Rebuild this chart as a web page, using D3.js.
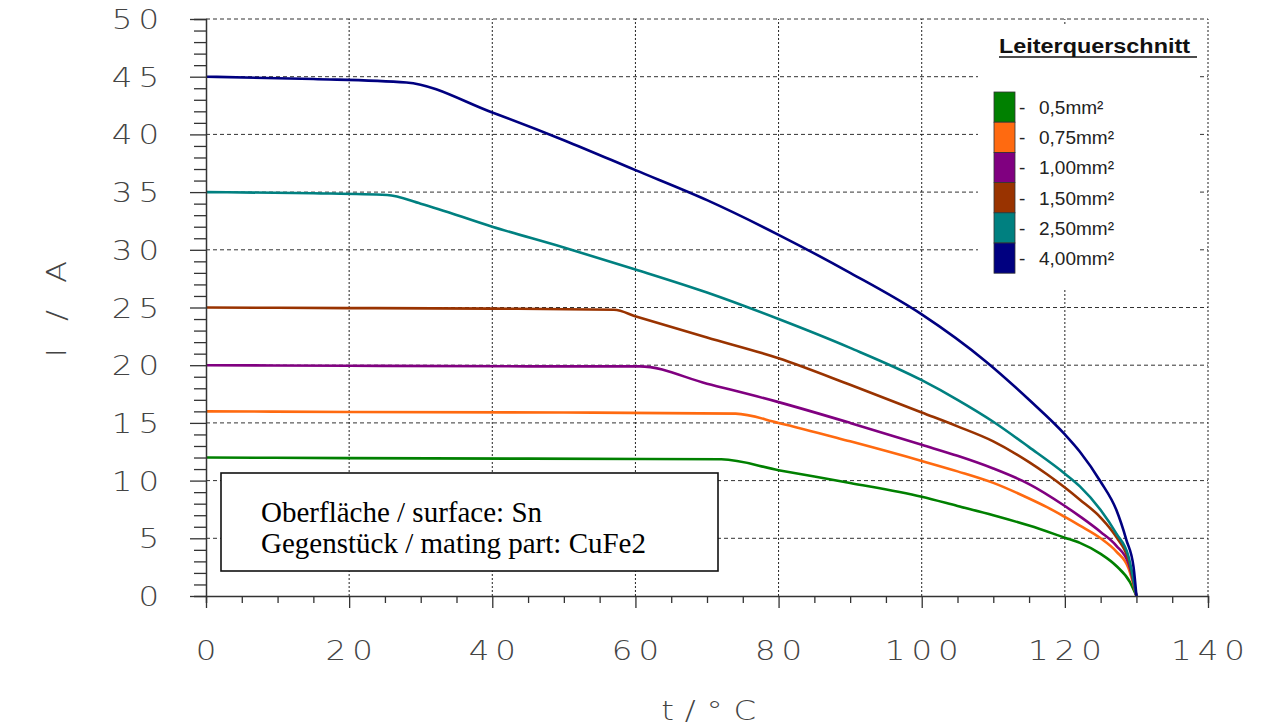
<!DOCTYPE html>
<html>
<head>
<meta charset="utf-8">
<script src="https://cdn.jsdelivr.net/npm/d3@7"></script>
<style>
    body { margin: 0; background: #fff; }
    .tick-lbl { font-family: "DejaVu Sans", sans-serif; font-weight: 200; fill: #444; }
</style>
</head>
<body>
<div id="chart"></div>
<script>
// series names and colours (Leiterquerschnitt)
var seriesNames = ["0,5mm²", "0,75mm²", "1,00mm²", "1,50mm²", "2,50mm²", "4,00mm²"];
var seriesColors = ["#008000", "#ff6a10", "#800080", "#993300", "#008080", "#000080"];

// temperature (t / °C) and current (I / A)
var t05 = [0, 20, 45, 72, 80, 90, 100, 105, 110, 115, 120, 122.1, 125, 127.2, 129.1, 130];
var i05 = [12.0, 11.95, 11.9, 11.85, 10.9, 9.8, 8.6, 7.8, 7.0, 6.1, 5.05, 4.6, 3.65, 2.6, 1.2, 0];
var t075 = [0, 20, 50, 74, 80, 90, 100, 105, 110, 115, 117.5, 120, 122.1, 125, 127.2, 128.9, 130];
var i075 = [16.0, 15.95, 15.9, 15.8, 15.0, 13.4, 11.7, 10.8, 9.8, 8.45, 7.7, 6.85, 6.1, 5.0, 3.85, 2.4, 0];
var t100 = [0, 20, 45, 60.6, 70, 80, 90, 100, 105, 110, 115, 120, 122.1, 125, 127.2, 128.9, 130];
var i100 = [20.0, 19.95, 19.9, 19.9, 18.4, 16.8, 15.0, 13.1, 12.15, 11.05, 9.7, 7.8, 6.9, 5.55, 4.35, 2.8, 0];
var t150 = [0, 20, 40, 57, 60.2, 70, 80, 90, 100, 105, 110, 115, 117.5, 120, 122.1, 125, 127.2, 128.9, 130];
var i150 = [25.0, 24.95, 24.9, 24.8, 24.2, 22.4, 20.6, 18.3, 15.9, 14.7, 13.4, 11.6, 10.55, 9.4, 8.35, 6.8, 5.1, 3.1, 0];
var t250 = [0, 15, 25.3, 30, 40, 50, 60, 70, 80, 90, 100, 105, 110, 115, 120, 122.1, 125, 127.2, 128.9, 130];
var i250 = [35.0, 34.9, 34.75, 34.0, 32.0, 30.2, 28.3, 26.3, 24.0, 21.5, 18.7, 17.0, 15.1, 12.9, 10.6, 9.5, 7.45, 5.4, 3.4, 0];
var t400 = [0, 15, 28, 40, 50, 60, 70, 80, 90, 100, 109, 115, 120, 122.1, 125, 127.2, 128.6, 129.6, 130];
var i400 = [45.0, 44.8, 44.5, 41.9, 39.5, 36.9, 34.3, 31.3, 28.0, 24.4, 20.3, 17.0, 14.0, 12.5, 9.9, 7.45, 4.85, 2.5, 0];

var xTicks = [0, 20, 40, 60, 80, 100, 120, 140];
var yTicks = [0, 5, 10, 15, 20, 25, 30, 35, 40, 45, 50];

var noteLines = ["Oberfläche / surface: Sn", "Gegenstück / mating part: CuFe2"];

window.onload = function() {
    var fullWidth = 1261, fullHeight = 728;

    var svg = d3.select("#chart").append("svg").attr("width", fullWidth).attr("height", fullHeight);

    var x = d3.scaleLinear().domain([0, 140]).range([206, 1208]);
    var y = d3.scaleLinear().domain([0, 50]).range([596, 19]);

    // grid: dashed horizontals, dotted verticals
    svg.append("g").selectAll("line").data(yTicks.slice(1)).enter().append("line")
        .attr("x1", x(0)).attr("x2", x(140))
        .attr("y1", function(d) { return y(d); }).attr("y2", function(d) { return y(d); })
        .attr("stroke", "#333").attr("stroke-width", 1).attr("stroke-dasharray", "4,3");
    svg.append("g").selectAll("line").data(xTicks.slice(1)).enter().append("line")
        .attr("x1", function(d) { return x(d); }).attr("x2", function(d) { return x(d); })
        .attr("y1", y(0)).attr("y2", y(50))
        .attr("stroke", "#222").attr("stroke-width", 1).attr("stroke-dasharray", "2,2");

    // legend background hides the grid
    svg.append("rect").attr("x", 978).attr("y", 24).attr("width", 222).attr("height", 264).attr("fill", "#fff");

    // curves
    var line = d3.line()
        .x(function(d) { return x(d[0]); })
        .y(function(d) { return y(d[1]); })
        .curve(d3.curveMonotoneX);
    var tData = [t05, t075, t100, t150, t250, t400];
    var iData = [i05, i075, i100, i150, i250, i400];
    for (var s = 0; s < tData.length; s++) {
        var pts = d3.zip(tData[s], iData[s]);
        svg.append("path").datum(pts).attr("d", line)
            .attr("fill", "none").attr("stroke", seriesColors[s]).attr("stroke-width", 2.6)
            .attr("stroke-linejoin", "round");
    }

    // note box
    svg.append("rect").attr("x", 221).attr("y", 473).attr("width", 497).attr("height", 98)
        .attr("fill", "#fff").attr("stroke", "#111").attr("stroke-width", 1.6);
    svg.append("g").selectAll("text").data(noteLines).enter().append("text")
        .attr("x", 261).attr("y", function(d, i) { return 522 + i * 31; })
        .style("font-family", "'Liberation Serif', serif").style("font-size", "29px").style("fill", "#000")
        .text(function(d) { return d; });

    // y axis with minor ticks
    var yAxis = d3.axisLeft(y).tickValues(d3.range(0, 51, 1)).tickSize(12).tickFormat("");
    svg.append("g").attr("transform", "translate(" + x(0) + ",0)").call(yAxis)
        .call(function(g) {
            g.select(".domain").attr("stroke", "#333").attr("stroke-width", 1.5);
            g.selectAll(".tick line").attr("stroke", "#333").attr("stroke-width", 1.3)
                .attr("x2", function(d) { return d % 5 === 0 ? -16 : -12; });
        });

    // x axis with minor ticks
    var xAxis = d3.axisBottom(x).tickValues(d3.range(0, 141, 5)).tickSize(7).tickFormat("");
    svg.append("g").attr("transform", "translate(0," + y(0) + ")").call(xAxis)
        .call(function(g) {
            g.select(".domain").attr("stroke", "#333").attr("stroke-width", 1.5);
            g.selectAll(".tick line").attr("stroke", "#333").attr("stroke-width", 1.3)
                .attr("y2", function(d) { return d % 20 === 0 ? 12 : 7; });
        });

    // tick labels (wide thin font)
    svg.append("g").selectAll("text").data(yTicks).enter().append("text")
        .attr("class", "tick-lbl")
        .attr("transform", function(d) { return "translate(165," + (y(d) + 10) + ") scale(1.2,1)"; })
        .attr("text-anchor", "end")
        .style("font-size", "27px").style("letter-spacing", "5px")
        .text(function(d) { return d; });
    svg.append("g").selectAll("text").data(xTicks).enter().append("text")
        .attr("class", "tick-lbl")
        .attr("transform", function(d) { return "translate(" + (x(d) + 3) + ",660) scale(1.2,1)"; })
        .attr("text-anchor", "middle")
        .style("font-size", "27px").style("letter-spacing", "5px")
        .text(function(d) { return d; });

    // axis titles
    svg.append("text").attr("class", "tick-lbl")
        .attr("transform", "translate(66,305) rotate(-90) scale(1.2,1)")
        .attr("text-anchor", "middle")
        .style("font-size", "27px").style("letter-spacing", "7px")
        .text("I / A");
    svg.append("text").attr("class", "tick-lbl")
        .attr("transform", "translate(714,720) scale(1.2,1)")
        .attr("text-anchor", "middle")
        .style("font-size", "27px").style("letter-spacing", "9px")
        .text("t/°C");

    // legend
    svg.append("text").attr("x", 999).attr("y", 53)
        .attr("textLength", 191).attr("lengthAdjust", "spacingAndGlyphs")
        .style("font-family", "'Liberation Sans', Arial, sans-serif").style("font-size", "20px")
        .style("font-weight", "bold").style("fill", "#111")
        .text("Leiterquerschnitt");
    svg.append("line").attr("x1", 999).attr("x2", 1197).attr("y1", 57).attr("y2", 57)
        .attr("stroke", "#111").attr("stroke-width", 1.6);

    var legend = svg.append("g").selectAll("g").data(seriesNames).enter().append("g")
        .attr("transform", function(d, i) { return "translate(994," + (92 + i * 30.2) + ")"; });
    legend.append("rect").attr("width", 21).attr("height", 30.2)
        .attr("fill", function(d, i) { return seriesColors[i]; })
        .attr("stroke", "#333").attr("stroke-width", 0.8);
    legend.append("text").attr("x", 25).attr("y", 22)
        .style("font-family", "'Liberation Sans', Arial, sans-serif").style("font-size", "19px").style("fill", "#222")
        .text("-");
    legend.append("text").attr("x", 45).attr("y", 22)
        .style("font-family", "'Liberation Sans', Arial, sans-serif").style("font-size", "19px").style("fill", "#222")
        .text(function(d) { return d; });
};
</script>
</body>
</html>
